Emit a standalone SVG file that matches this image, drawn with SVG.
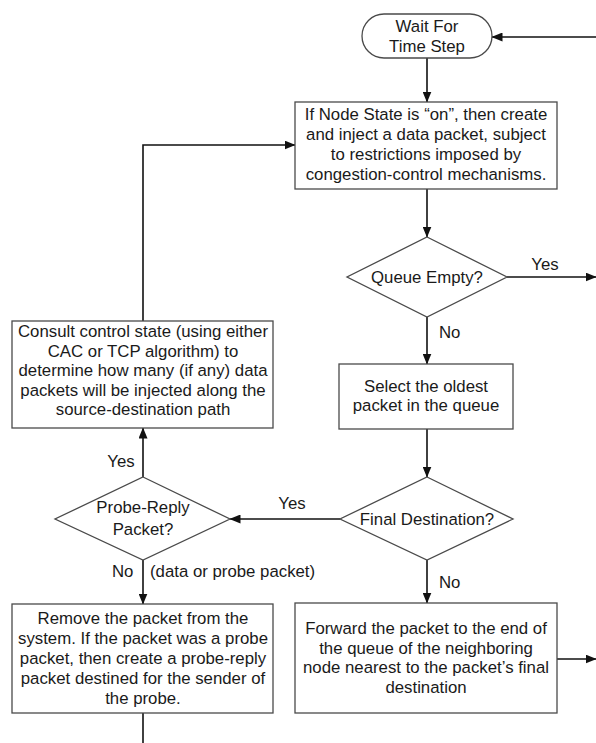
<svg xmlns="http://www.w3.org/2000/svg" width="596" height="743" viewBox="0 0 596 743">
<style>
.shape{fill:#fff;stroke:#4a4a4a;stroke-width:1.3}
.conn{fill:none;stroke:#111;stroke-width:1.6}
text{font-family:"Liberation Sans",Arial,sans-serif;font-size:16.8px;fill:#1a1a1a}
.c{text-anchor:middle}
</style>
<defs>
<marker id="arr" markerUnits="userSpaceOnUse" markerWidth="11" markerHeight="9" refX="10.5" refY="4.5" orient="auto">
<path d="M0,0 L11,4.5 L0,9 z" fill="#111"/>
</marker>
</defs>
<g id="connectors">
<line class="conn" x1="596" y1="37" x2="492" y2="37" marker-end="url(#arr)"/>
<line class="conn" x1="427" y1="58" x2="427" y2="102" marker-end="url(#arr)"/>
<line class="conn" x1="427" y1="189" x2="427" y2="237" marker-end="url(#arr)"/>
<line class="conn" x1="507" y1="277" x2="596" y2="277" marker-end="url(#arr)"/>
<line class="conn" x1="427" y1="317" x2="427" y2="364" marker-end="url(#arr)"/>
<line class="conn" x1="427" y1="429" x2="427" y2="477" marker-end="url(#arr)"/>
<line class="conn" x1="427" y1="560" x2="427" y2="603" marker-end="url(#arr)"/>
<line class="conn" x1="340" y1="519" x2="230" y2="519" marker-end="url(#arr)"/>
<line class="conn" x1="143" y1="477" x2="143" y2="428" marker-end="url(#arr)"/>
<line class="conn" x1="143" y1="560" x2="143" y2="604" marker-end="url(#arr)"/>
<line class="conn" x1="143" y1="713" x2="143" y2="743"/>
<line class="conn" x1="557" y1="659" x2="596" y2="659" marker-end="url(#arr)"/>
<polyline class="conn" points="143,321 143,145 295,145" marker-end="url(#arr)"/>
<text x="545" y="270" class="c">Yes</text>
<text x="439" y="338">No</text>
<text x="292" y="509" class="c">Yes</text>
<text x="121" y="467" class="c">Yes</text>
<text x="112" y="577">No</text>
<text x="150" y="577">(data or probe packet)</text>
<text x="439" y="588">No</text>
</g>
<g id="wait">
<rect class="shape" x="362" y="14" width="130" height="44" rx="22" ry="22"/>
<text x="427" y="32" class="c">Wait For</text>
<text x="427" y="52" class="c">Time Step</text>
</g>
<g id="inject">
<rect class="shape" x="295" y="102" width="262" height="87"/>
<text x="426" y="120" class="c">If Node State is “on”, then create</text>
<text x="426" y="140" class="c">and inject a data packet, subject</text>
<text x="426" y="160" class="c">to restrictions imposed by</text>
<text x="426" y="180" class="c">congestion-control mechanisms.</text>
</g>
<g id="queue-empty">
<polygon class="shape" points="427,237 507,277 427,317 347,277"/>
<text x="427" y="283" class="c">Queue Empty?</text>
</g>
<g id="select">
<rect class="shape" x="339" y="364" width="174" height="65"/>
<text x="426" y="392" class="c">Select the oldest</text>
<text x="426" y="411" class="c">packet in the queue</text>
</g>
<g id="final-dest">
<polygon class="shape" points="427,477 513,519 427,560 340,519"/>
<text x="427" y="525" class="c">Final Destination?</text>
</g>
<g id="consult">
<rect class="shape" x="12" y="321" width="261" height="107"/>
<text x="143" y="337" class="c">Consult control state (using either</text>
<text x="143" y="356.5" class="c">CAC or TCP algorithm) to</text>
<text x="143" y="376" class="c">determine how many (if any) data</text>
<text x="143" y="395.5" class="c">packets will be injected along the</text>
<text x="143" y="415" class="c">source-destination path</text>
</g>
<g id="probe-reply">
<polygon class="shape" points="143,477 230,519 143,560 55,519"/>
<text x="143" y="513" class="c">Probe-Reply</text>
<text x="143" y="535" class="c">Packet?</text>
</g>
<g id="remove">
<rect class="shape" x="12" y="604" width="261" height="109"/>
<text x="143" y="624" class="c">Remove the packet from the</text>
<text x="143" y="644" class="c">system. If the packet was a probe</text>
<text x="143" y="664" class="c">packet, then create a probe-reply</text>
<text x="143" y="684" class="c">packet destined for the sender of</text>
<text x="143" y="704" class="c">the probe.</text>
</g>
<g id="forward">
<rect class="shape" x="295" y="603" width="262" height="110"/>
<text x="426" y="634" class="c">Forward the packet to the end of</text>
<text x="426" y="653.5" class="c">the queue of the neighboring</text>
<text x="426" y="673" class="c">node nearest to the packet’s final</text>
<text x="426" y="692.5" class="c">destination</text>
</g>
</svg>
